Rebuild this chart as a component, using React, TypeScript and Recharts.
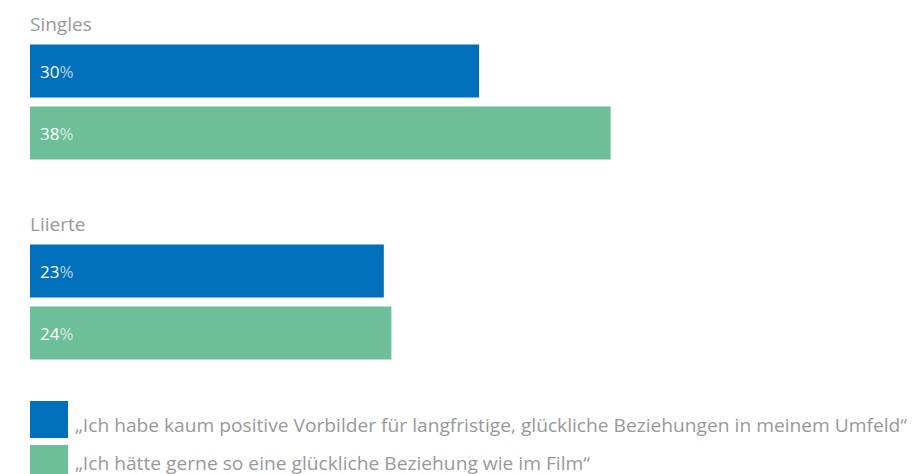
import React from "react";
import { BarChart, Bar, XAxis, YAxis, LabelList } from "recharts";

const categories = ["Singles", "Liierte"];
const vorbilderValues = [29.7, 23.4];
const filmValues = [38.4, 23.9];
const vorbilderLabels = ["30", "23"];
const filmLabels = ["38", "24"];
const seriesNames = [
  "„Ich habe kaum positive Vorbilder für langfristige, glückliche Beziehungen in meinem Umfeld“",
  "„Ich hätte gerne so eine glückliche Beziehung wie im Film“",
];
const seriesColors = ["#0070BA", "#6DBF99"];

const data = categories.map((c, i) => ({
  name: c,
  vorbilder: vorbilderValues[i],
  film: filmValues[i],
  vorbilderLabel: vorbilderLabels[i],
  filmLabel: filmLabels[i],
}));

const FONT = "'Open Sans', 'Noto Sans', sans-serif";

const CategoryLabel = (props: any) => {
  const { x, y, index } = props;
  return (
    <text x={x} y={y - 13.5} fill="#999999" fontSize={19} fontFamily={FONT} textAnchor="start">
      {data[index].name}
    </text>
  );
};

const makeLabel = (key: string) => (props: any) => {
  const { x, y, height, index } = props;
  const txt = (data as any)[index][key];
  return (
    <text x={x + 10} y={y + height / 2 + 6.5} fill="#ffffff" fontSize={17} fontFamily={FONT}>
      {txt}
      <tspan fillOpacity={0.7}>%</tspan>
    </text>
  );
};

const LegendBlock = () => (
  <svg
    width={912}
    height={73}
    style={{ position: "absolute", left: 0, top: 401, display: "block" }}
  >
    {seriesNames.map((n, i) => (
      <g key={n}>
        <rect x={30} y={i * 44} width={38} height={37} fill={seriesColors[i]} />
        <text
          x={75}
          y={31 + i * 37.5}
          fill="#999999"
          fontSize={19}
          fontFamily={FONT}
          textLength={i === 0 ? 832 : 515}
          lengthAdjust="spacingAndGlyphs"
        >
          {n}
        </text>
      </g>
    ))}
  </svg>
);

export default function App() {
  return (
    <div style={{ position: "absolute", left: 0, top: 0, width: 912, height: 474, background: "#fff", overflow: "hidden" }}>
      <BarChart
        width={912}
        height={474}
        data={data}
        layout="vertical"
        margin={{ top: 1.5, right: 5, bottom: 72.5, left: 30 }}
        barGap={9}
      >
        <XAxis type="number" domain={[0, 58]} hide />
        <YAxis type="category" dataKey="name" hide />
        <Bar dataKey="vorbilder" fill={seriesColors[0]} barSize={53} isAnimationActive={false}>
          <LabelList dataKey="vorbilderLabel" content={makeLabel("vorbilderLabel")} />
          <LabelList dataKey="name" content={CategoryLabel} />
        </Bar>
        <Bar dataKey="film" fill={seriesColors[1]} barSize={53} isAnimationActive={false}>
          <LabelList dataKey="filmLabel" content={makeLabel("filmLabel")} />
        </Bar>
      </BarChart>
      <LegendBlock />
    </div>
  );
}
